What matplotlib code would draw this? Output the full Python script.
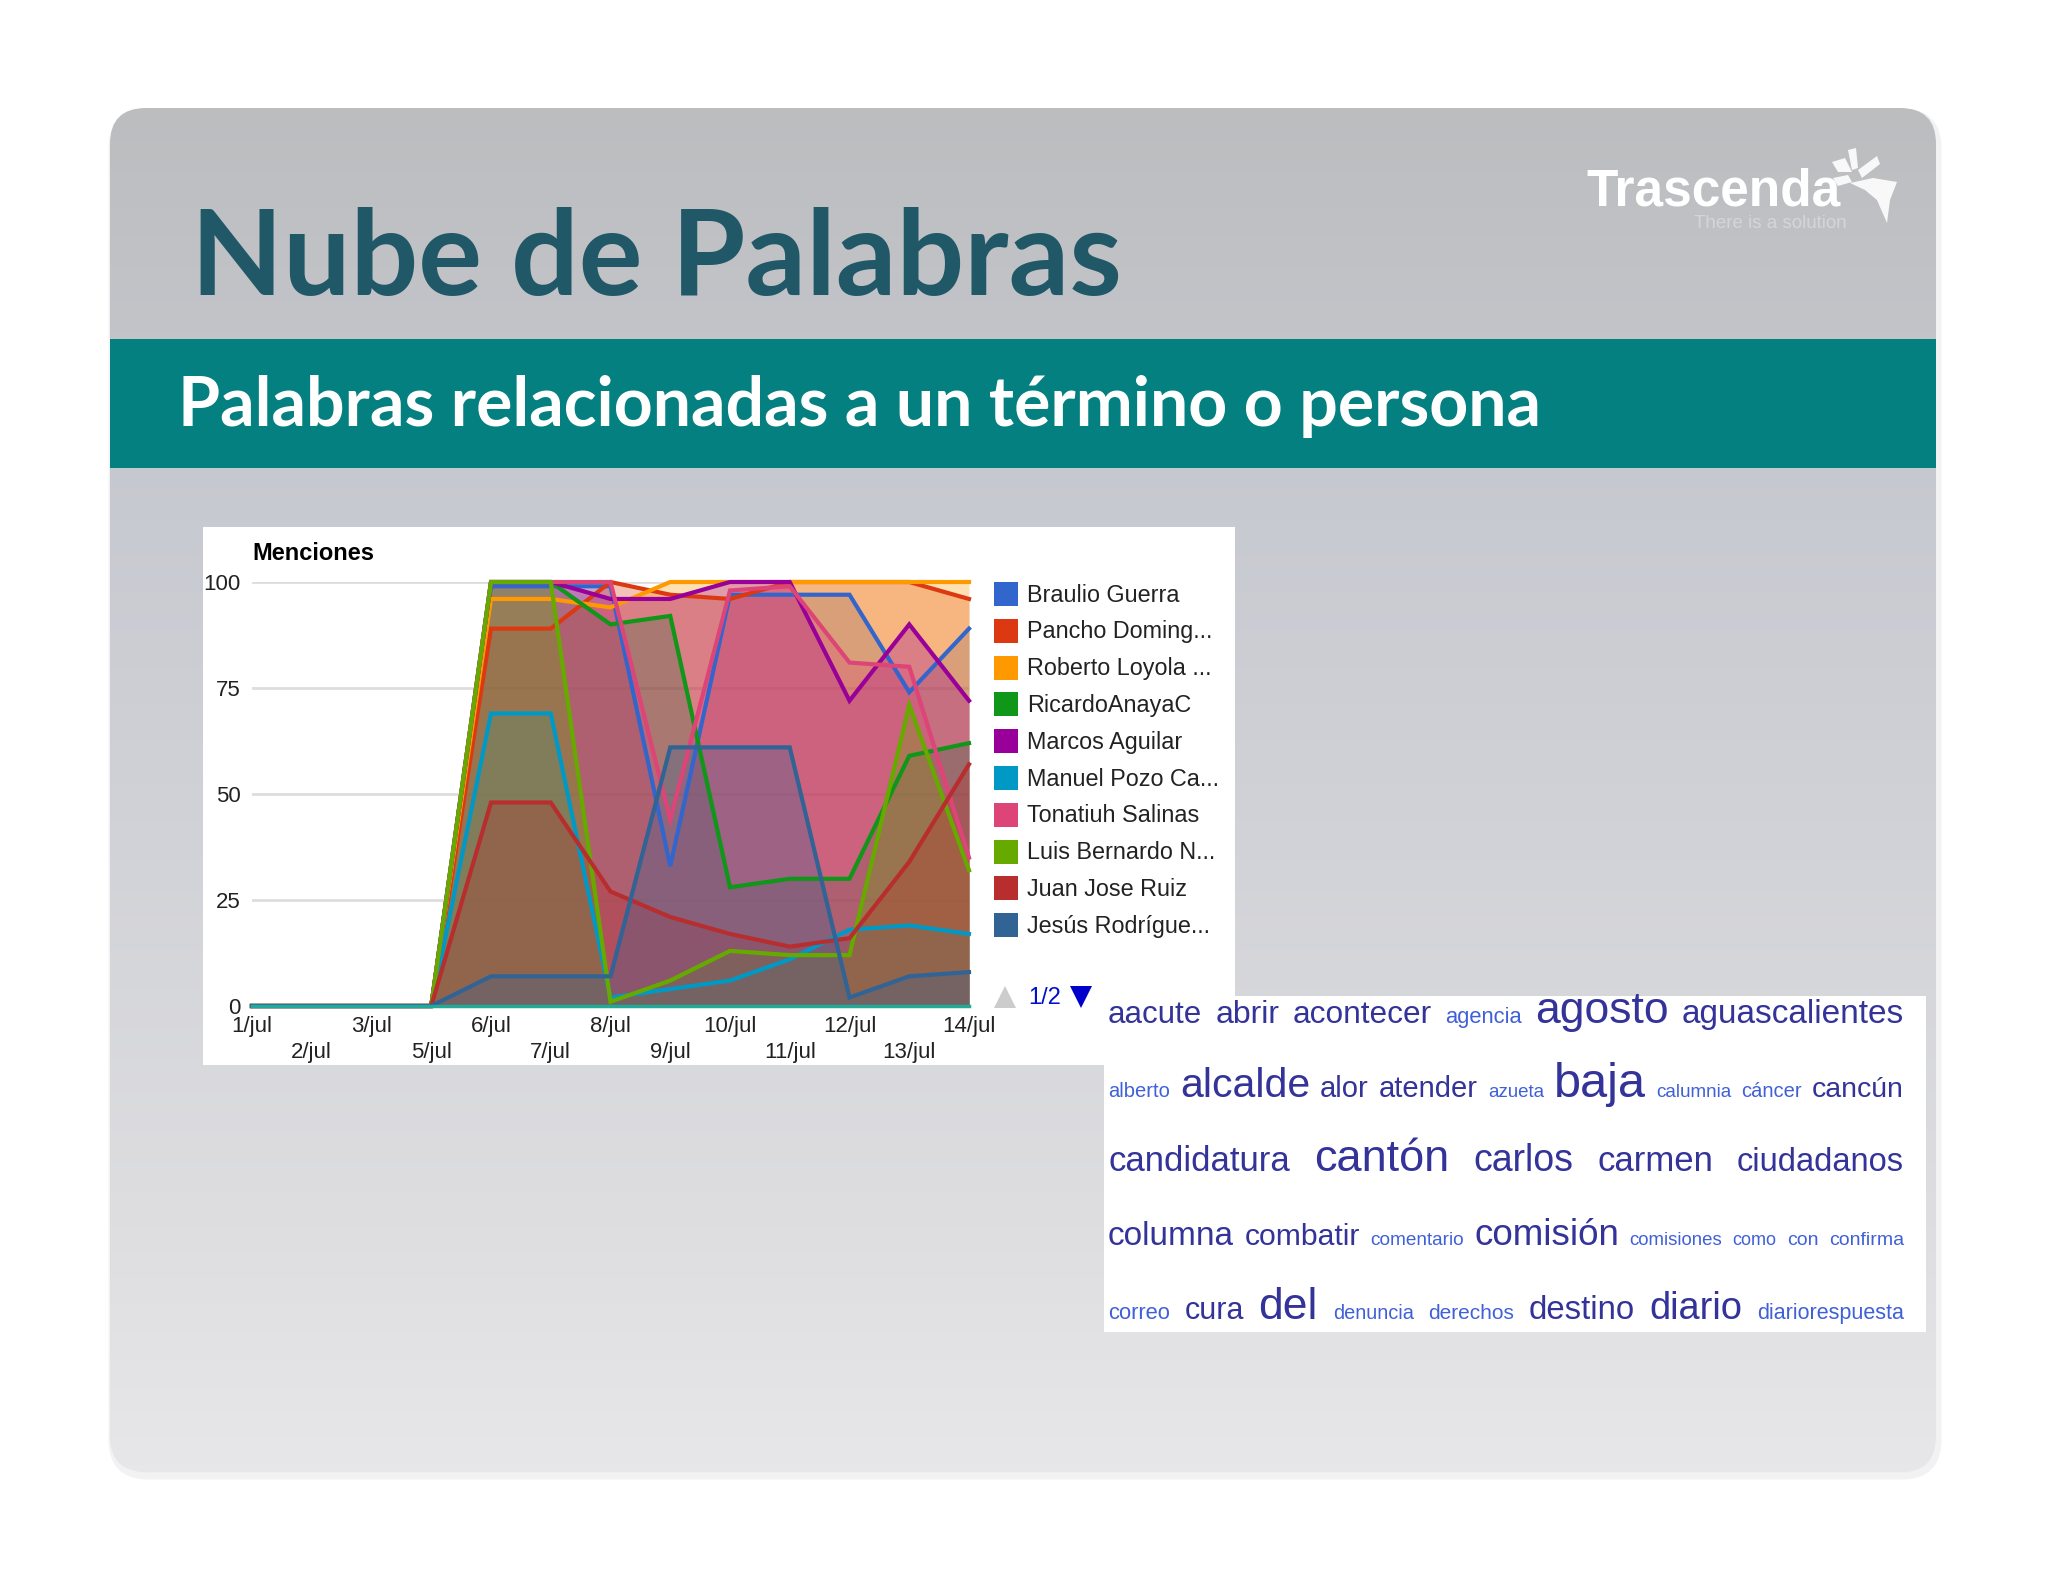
import numpy as np
import matplotlib
matplotlib.use('Agg')
import matplotlib.pyplot as plt
from matplotlib.patches import FancyBboxPatch, Rectangle, Polygon
from matplotlib.colors import LinearSegmentedColormap

W, H = 2048, 1582

#Chart data
dias = ['1/jul', '2/jul', '3/jul', '5/jul', '6/jul', '7/jul', '8/jul', '9/jul', '10/jul', '11/jul', '12/jul', '13/jul', '14/jul']
nombres = ['Braulio Guerra', 'Pancho Doming...', 'Roberto Loyola ...', 'RicardoAnayaC', 'Marcos Aguilar',
           'Manuel Pozo Ca...', 'Tonatiuh Salinas', 'Luis Bernardo N...', 'Juan Jose Ruiz', 'Jesús Rodrígue...']
colores = ['#3366cc', '#dc3912', '#ff9900', '#109618', '#990099', '#0099c6', '#dd4477', '#66aa00', '#b82e2e', '#316395']

braulio = [0, 0, 0, 0, 99, 99, 99, 33, 97, 97, 97, 74, 89]
pancho = [0, 0, 0, 0, 89, 89, 100, 97, 96, 100, 100, 100, 96]
roberto = [0, 0, 0, 0, 96, 96, 94, 100, 100, 100, 100, 100, 100]
ricardo = [0, 0, 0, 0, 100, 100, 90, 92, 28, 30, 30, 59, 62]
marcos = [0, 0, 0, 0, 100, 100, 96, 96, 100, 100, 72, 90, 72]
manuel = [0, 0, 0, 0, 69, 69, 2, 4, 6, 11, 18, 19, 17]
tonatiuh = [0, 0, 0, 0, 100, 100, 100, 44, 98, 99, 81, 80, 35]
luis = [0, 0, 0, 0, 100, 100, 1, 6, 13, 12, 12, 71, 32]
juan = [0, 0, 0, 0, 48, 48, 27, 21, 17, 14, 16, 34, 57]
jesus = [0, 0, 0, 0, 7, 7, 7, 61, 61, 61, 2, 7, 8]
series = [braulio, pancho, roberto, ricardo, marcos, manuel, tonatiuh, luis, juan, jesus]

#Word cloud, one list per row
fila1 = ['aacute', 'abrir', 'acontecer', 'agencia', 'agosto', 'aguascalientes']
peso1 = [22.5, 23, 22.8, 15.8, 32, 24]
fila2 = ['alberto', 'alcalde', 'alor', 'atender', 'azueta', 'baja', 'calumnia', 'cáncer', 'cancún']
peso2 = [14.5, 29.5, 21, 21, 13.5, 35, 13.6, 14.5, 20.5]
fila3 = ['candidatura', 'cantón', 'carlos', 'carmen', 'ciudadanos']
peso3 = [25, 32.5, 27, 25, 23.5]
fila4 = ['columna', 'combatir', 'comentario', 'comisión', 'comisiones', 'como', 'con', 'confirma']
peso4 = [24, 21.7, 13.7, 26.5, 13.4, 13, 14, 14]
fila5 = ['correo', 'cura', 'del', 'denuncia', 'derechos', 'destino', 'diario', 'diariorespuesta']
peso5 = [15.8, 22, 32, 14.4, 15, 23.7, 27.4, 15.5]
filas = [fila1, fila2, fila3, fila4, fila5]
pesos = [peso1, peso2, peso3, peso4, peso5]

plt.rcParams['font.family'] = ['Liberation Sans', 'DejaVu Sans']

fig = plt.figure(figsize=(W / 100, H / 100), dpi=100, facecolor='white')

#Slide background
bg = fig.add_axes([0, 0, 1, 1])
bg.set_xlim(0, W)
bg.set_ylim(H, 0)
bg.axis('off')

bg.add_patch(FancyBboxPatch((112, 112), 1826, 1364, boxstyle='round,pad=0,rounding_size=36',
                            fc='#ececee', ec='#f2f2f3', lw=5, zorder=0))
panel = FancyBboxPatch((110, 108), 1826, 1364, boxstyle='round,pad=0,rounding_size=36',
                       fc='none', ec='none', zorder=1)
bg.add_patch(panel)
cmap = LinearSegmentedColormap.from_list('slide', [(0, '#bcbdbf'), (0.3, '#c8cad1'), (0.55, '#d2d3d8'),
                                                   (0.8, '#dddde0'), (1, '#e7e7e9')])
img = bg.imshow(np.linspace(0, 1, 400).reshape(-1, 1), cmap=cmap, extent=(110, 1936, 1472, 108),
                aspect='auto', zorder=1)
img.set_clip_path(panel)
bg.set_xlim(0, W)
bg.set_ylim(H, 0)

bg.add_patch(Rectangle((110, 339), 1826, 129, fc='#048080', ec='none', zorder=2))
bg.text(191, 261, 'Nube de Palabras', family='Lato', weight='bold', fontsize=86, color='#215868',
        ha='left', va='center', zorder=3)
bg.text(178, 406, 'Palabras relacionadas a un término o persona', family='Lato', weight='bold', fontsize=49,
        color='white', ha='left', va='center', zorder=3)

#Logo
bg.text(1586, 192, 'Trascenda', weight='bold', fontsize=37, color='white', ha='left', va='center', zorder=3)
bg.text(1694, 224, 'There is a solution', fontsize=13.5, color='white', alpha=0.35, ha='left', va='center', zorder=3)
hojas = [[(1850, 183), (1873, 178), (1897, 182), (1890, 200), (1887, 223), (1877, 200), (1865, 190)],
         [(1858, 170), (1877, 156), (1880, 164), (1862, 178)],
         [(1848, 150), (1856, 148), (1858, 168), (1852, 170)],
         [(1832, 162), (1845, 158), (1852, 172), (1838, 172)],
         [(1833, 178), (1848, 175), (1852, 182), (1838, 186)]]
for hoja in hojas:
    bg.add_patch(Polygon(hoja, closed=True, fc='white', ec='none', alpha=0.9, zorder=3))

#White card behind the chart
bg.add_patch(Rectangle((203, 527), 1032, 538, fc='white', ec='none', zorder=2))
bg.text(252, 554, 'Menciones', weight='bold', fontsize=17, color='black', ha='left', va='center', zorder=3)

#Area chart
ax = fig.add_axes([252 / W, 1 - 1006 / H, 717 / W, 424 / H])
ax.patch.set_alpha(0)
x = np.arange(len(dias))
for valores, color in zip(series, colores):
    ax.fill_between(x, 0, valores, color=color, alpha=0.3, lw=0)
    ax.plot(x, valores, color=color, lw=3, solid_joinstyle='miter', clip_on=False)
ax.set_xlim(0, len(dias) - 1)
ax.set_ylim(0, 100)
ax.set_yticks([0, 25, 50, 75, 100])
ax.set_xticks(x)
ax.set_xticklabels([d if i % 2 == 0 else '\n' + d for i, d in enumerate(dias)], linespacing=1.35)
ax.tick_params(axis='both', length=0, labelsize=16, labelcolor='#222222')
ax.tick_params(axis='x', pad=7)
ax.tick_params(axis='y', pad=8)
ax.grid(axis='y', color='#dddddd', lw=2)
ax.set_axisbelow(True)
for lado in ['top', 'right', 'left']:
    ax.spines[lado].set_visible(False)
ax.spines['bottom'].set_color('#22aa99')
ax.spines['bottom'].set_linewidth(2.5)
ax.spines['bottom'].set_zorder(5)

#Foreground: legend, pager and word cloud
fg = fig.add_axes([0, 0, 1, 1])
fg.set_xlim(0, W)
fg.set_ylim(H, 0)
fg.axis('off')
fg.patch.set_alpha(0)

for i, (nombre, color) in enumerate(zip(nombres, colores)):
    yc = 594 + i * 36.8
    fg.add_patch(Rectangle((994, yc - 12), 24, 24, fc=color, ec='none'))
    fg.text(1027, yc + 1, nombre, fontsize=16.8, color='#222222', ha='left', va='center')

fg.add_patch(Polygon([(994, 1008), (1016, 1008), (1005, 986)], closed=True, fc='#cccccc', ec='none'))
fg.text(1028, 998, '1/2', fontsize=17, color='#0011cc', ha='left', va='center')
fg.add_patch(Polygon([(1070, 986), (1092, 986), (1081, 1008)], closed=True, fc='#0000cc', ec='none'))

fg.add_patch(Rectangle((1104, 996), 822, 336, fc='white', ec='none'))
renderer = fig.canvas.get_renderer()
izq, der = 1108, 1904
base = [1023, 1097, 1171, 1245, 1319]
for fila, peso, yb in zip(filas, pesos, base):
    textos = []
    for palabra, p in zip(fila, peso):
        color = '#333399' if p >= 20 else '#4060d8'
        textos.append(fg.text(izq, yb, palabra, fontsize=p, color=color, ha='left', va='baseline'))
    anchos = [t.get_window_extent(renderer).width for t in textos]
    hueco = (der - izq - sum(anchos)) / (len(fila) - 1)
    pos = izq
    for t, a in zip(textos, anchos):
        t.set_x(pos)
        pos += a + hueco

fig.savefig('out.png', dpi=100)
